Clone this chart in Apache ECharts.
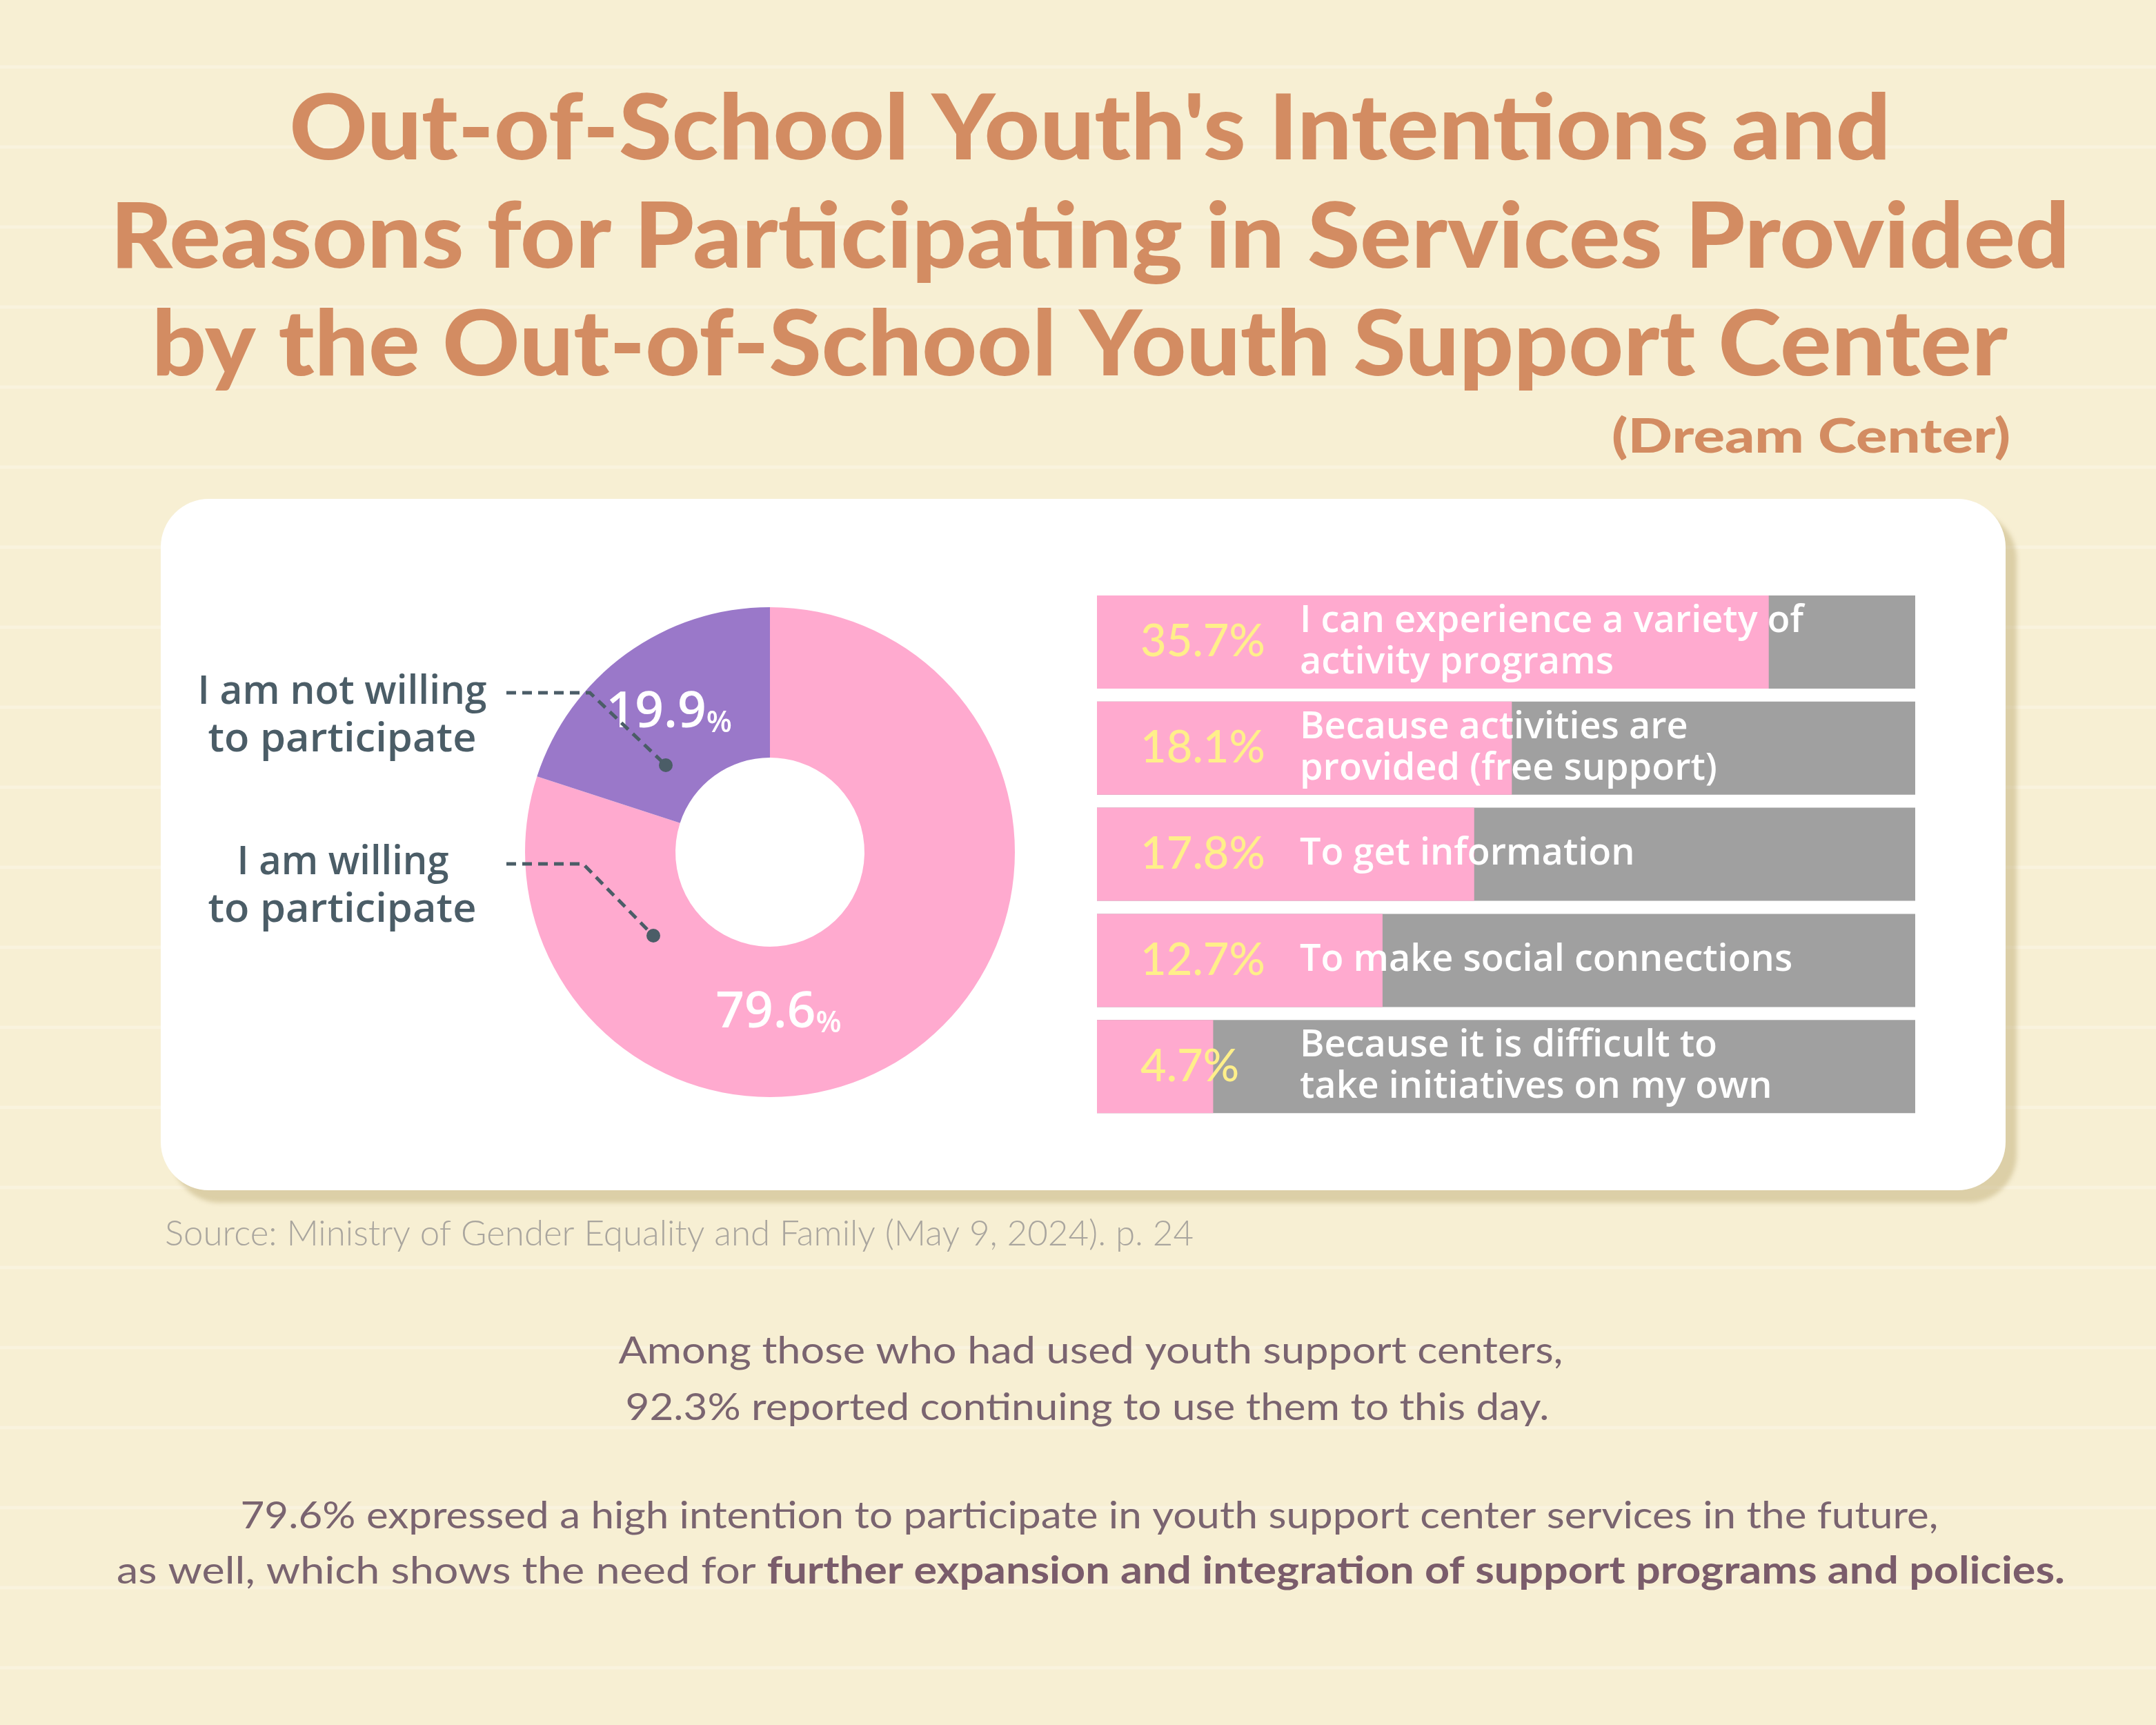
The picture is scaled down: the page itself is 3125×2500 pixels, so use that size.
<!DOCTYPE html>
<html><head><meta charset="utf-8">
<script src="https://cdn.jsdelivr.net/npm/echarts@6/dist/echarts.min.js"></script>
<style>html,body{margin:0;padding:0;background:#F7EFD3;} #c{width:3125px;height:2500px;}</style>
</head><body><div id="c"></div>
<script>
// ---------- data ----------
const titleLines = [
  "Out-of-School Youth's Intentions and",
  "Reasons for Participating in Services Provided",
  "by the Out-of-School Youth Support Center"
];
const subtitle = "(Dream Center)";
const pieNames = ["I am willing\nto participate", "I am not willing\nto participate"];
const pieValues = [79.6, 19.9];
const reasons = [
  "I can experience a variety of\nactivity programs",
  "Because activities are\nprovided (free support)",
  "To get information",
  "To make social connections",
  "Because it is difficult to\ntake initiatives on my own"
];
const reasonShares = [35.7, 18.1, 17.8, 12.7, 4.7];
// drawn pink length of each bar, as % of the grey track
const reasonBarLengths = [82.1, 50.7, 46.1, 34.9, 14.2];
const trackMax = 100;
const sourceText = "Source: Ministry of Gender Equality and Family (May 9, 2024). p. 24";
const noteLines = [
  "Among those who had used youth support centers,",
  "92.3% reported continuing to use them to this day.",
  "79.6% expressed a high intention to participate in youth support center services in the future,"
];
const noteLastPlain = "as well, which shows the need for ";
const noteLastBold = "further expansion and integration of support programs and policies.";

// ---------- helpers ----------
const mctx = document.createElement('canvas').getContext('2d');
function mw(text, weight, size, family) {
  mctx.font = weight + ' ' + size + 'px "' + family + '"';
  return mctx.measureText(text).width;
}
function fitText(text, x, y, targetW, size, weight, family, color, align) {
  const sx = targetW / mw(text, weight, size, family);
  return {
    type: 'text', x: x, y: y, scaleX: sx, z: 20,
    style: {
      text: text, fill: color, fontSize: size, fontWeight: weight, fontFamily: family,
      align: align, verticalAlign: 'middle', textAlign: align, textVerticalAlign: 'middle'
    }
  };
}

const chart = echarts.init(document.getElementById('c'), null, {renderer: 'canvas'});

const BG = '#F7EFD3';
const TITLE_C = '#D38C62';
const SLATE = '#4B5D67';
const PINK = '#FFAACF';
const PURPLE = '#9A78C9';
const GREY = '#A0A0A0';
const NOTE_C = '#7A6470';

const graphics = [];
// faint paper stripes
for (let y = 97; y < 2500; y += 116) {
  graphics.push({type: 'rect', z: 0, shape: {x: 0, y: y - 2.5, width: 3125, height: 5},
    style: {fill: 'rgba(255,253,245,0.32)'}});
}
// card
graphics.push({type: 'rect', z: 1, shape: {x: 233, y: 723, width: 2674, height: 1002, r: 70},
  style: {fill: '#FFFFFF', shadowColor: 'rgba(175,155,95,0.38)', shadowBlur: 6, shadowOffsetX: 16, shadowOffsetY: 18}});

// title
const titleTargets = [[1580, 189, 2321], [1580, 346, 2840], [1565, 502, 2690]];
titleLines.forEach((t, i) => {
  graphics.push(fitText(t, titleTargets[i][0], titleTargets[i][1], titleTargets[i][2], 131, 900, 'Lato', TITLE_C, 'center'));
});
graphics.push(fitText(subtitle, 2914, 634, 578, 68, 900, 'Lato', TITLE_C, 'right'));

// pie side labels
const sideLines = [pieNames[1].split('\n'), pieNames[0].split('\n')];
const sideTargets = [[[496, 1004, 419], [496, 1073, 389]], [[497, 1251, 307], [496, 1320, 389]]];
sideLines.forEach((lines, i) => {
  lines.forEach((ln, j) => {
    const t = sideTargets[i][j];
    graphics.push(fitText(ln, t[0], t[1], t[2], 57, 600, 'Open Sans', SLATE, 'center'));
  });
});
// leader lines
const leaders = [
  [[734, 1004], [855, 1004], [965, 1109]],
  [[734, 1252], [845, 1252], [947, 1356]]
];
leaders.forEach(pts => {
  graphics.push({type: 'polyline', z: 30, shape: {points: pts},
    style: {stroke: SLATE, lineWidth: 5, lineDash: [14, 9], fill: null}});
  const e = pts[pts.length - 1];
  graphics.push({type: 'circle', z: 31, shape: {cx: e[0], cy: e[1], r: 10}, style: {fill: SLATE}});
});

// source
graphics.push(fitText(sourceText, 239, 1788, 1491, 52, 300, 'Lato', '#A9A59E', 'left'));

// notes
const noteTargets = [[1581, 1958, 1369], [1576, 2040, 1339], [1579, 2197, 2461]];
noteLines.forEach((t, i) => {
  graphics.push(fitText(t, noteTargets[i][0], noteTargets[i][1], noteTargets[i][2], 55, 400, 'Lato', NOTE_C, 'center'));
});
{
  const wPlain = mw(noteLastPlain, 400, 55, 'Lato');
  const wBold = mw(noteLastBold, 700, 55, 'Lato');
  const sx = 2824 / (wPlain + wBold);
  graphics.push({
    type: 'text', x: 1581, y: 2277, scaleX: sx, z: 20,
    style: {
      text: noteLastPlain + '{b|' + noteLastBold + '}',
      fill: NOTE_C, fontSize: 55, fontWeight: 400, fontFamily: 'Lato',
      align: 'center', verticalAlign: 'middle', textAlign: 'center', textVerticalAlign: 'middle',
      rich: {b: {fontSize: 55, fontWeight: 700, fontFamily: 'Lato', fill: '#7A5C6B', color: '#7A5C6B'}}
    }
  });
}

const pieData = pieValues.map((v, i) => {
  const item = {value: v, name: pieNames[i], itemStyle: {color: i === 0 ? PINK : PURPLE}};
  if (i === 0) item.label = {offset: [-134, 32]};
  return item;
});

const option = {
  backgroundColor: BG,
  animation: false,
  graphic: {elements: graphics},
  grid: {left: 1590, top: 853.6, width: 1186, height: 769},
  xAxis: {type: 'value', min: 0, max: trackMax, show: false},
  yAxis: {type: 'category', data: reasons, inverse: true, show: false},
  series: [
    {
      type: 'pie', z: 5,
      center: [1116, 1235], radius: [137, 355], startAngle: 90, clockwise: true,
      labelLine: {show: false},
      label: {
        show: true, position: 'inside',
        formatter: p => '{n|' + p.value + '}{s|%}',
        rich: {
          n: {fontSize: 73, color: '#fff', fontFamily: 'Open Sans', fontWeight: 600, lineHeight: 73},
          s: {fontSize: 43, color: '#fff', fontFamily: 'Open Sans', fontWeight: 600, lineHeight: 50, verticalAlign: 'bottom'}
        }
      },
      emphasis: {disabled: true},
      data: pieData
    },
    {
      type: 'bar', z: 5,
      data: reasonBarLengths,
      barWidth: 135,
      itemStyle: {color: PINK},
      showBackground: true,
      backgroundStyle: {color: GREY},
      label: {
        show: true, position: 'insideLeft', distance: 63,
        formatter: p => reasonShares[p.dataIndex] + '%',
        color: '#FFEF8A', fontSize: 65, fontFamily: 'Lato', fontWeight: 500
      },
      emphasis: {disabled: true}
    },
    {
      type: 'bar', z: 6, silent: true,
      data: reasons.map(() => trackMax),
      barWidth: 135, barGap: '-100%',
      itemStyle: {color: 'rgba(0,0,0,0)'},
      label: {
        show: true, position: 'insideLeft', distance: 294,
        formatter: p => reasons[p.dataIndex],
        color: '#FFFFFF', fontSize: 54, lineHeight: 60, fontFamily: 'Open Sans', fontWeight: 600
      },
      emphasis: {disabled: true}
    }
  ]
};
chart.setOption(option);
</script>
</body></html>
